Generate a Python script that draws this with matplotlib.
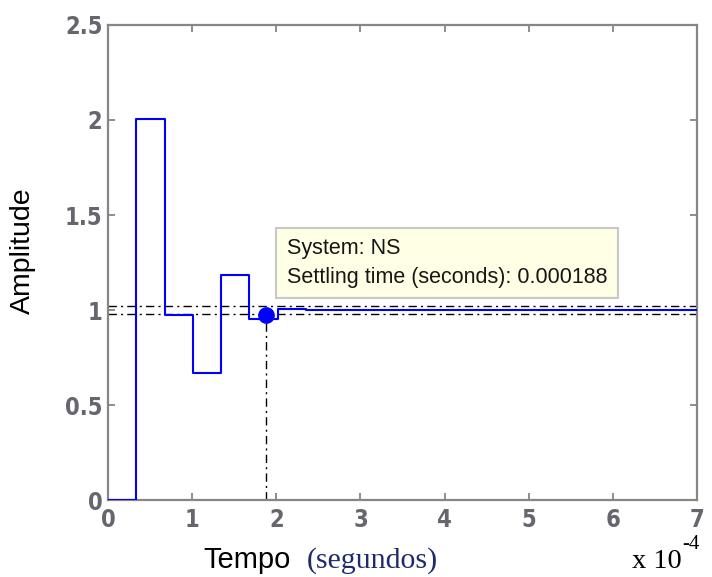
import matplotlib.pyplot as plt
import numpy as np

# step response samples (seconds, amplitude)
t_edges = [0.0, 0.336e-4, 0.672e-4, 1.008e-4, 1.344e-4, 1.68e-4, 2.016e-4, 2.35e-4, 7e-4]
amp = [0.0, 2.005, 0.975, 0.668, 1.184, 0.955, 1.003, 1.0, 1.0]
settle_t = 0.000188
settle_y = 0.974
band = [1.02, 0.98]
xticks = [0, 1, 2, 3, 4, 5, 6, 7]
yticks = [0, 0.5, 1, 1.5, 2, 2.5]
ytick_labels = ['0', '0.5', '1', '1.5', '2', '2.5']

dd = (6, 3, 1.5, 3)

fig = plt.figure(figsize=(7.12, 5.77), dpi=100)
ax = fig.add_axes([0.1517, 0.1334, 0.8273, 0.8233])

ax.step(t_edges, amp, where='post', color='#0000ff', lw=1.5, zorder=3)
for b in band:
    ax.axhline(b, color='black', lw=1.0, ls='-.', dashes=dd, zorder=2)
ax.plot([settle_t, settle_t], [0, settle_y], color='black', lw=1.0,
        ls='-.', dashes=dd, zorder=2)
ax.plot([settle_t], [settle_y], 'o', color='#0000ff', ms=11, zorder=4)

ax.set_xlim(0, 7e-4)
ax.set_ylim(0, 2.5)
ax.set_xticks([v * 1e-4 for v in xticks])
ax.set_xticklabels([str(v) for v in xticks])
ax.set_yticks(yticks)
ax.set_yticklabels(ytick_labels)
ax.tick_params(direction='in', length=5, width=1.2, colors='#7a7a7a',
               labelcolor='#66666e', labelsize=17, top=True, right=True)
ax.tick_params(axis='x', pad=6)
ax.tick_params(axis='y', pad=4)
for lab in ax.get_xticklabels() + ax.get_yticklabels():
    lab.set_fontweight('bold')
    lab.set_family('DejaVu Sans')
    lab.set_fontstretch('condensed')
for s in ax.spines.values():
    s.set_color('#868686')
    s.set_linewidth(1.6)

fig.text(0.032, 0.565, 'Amplitude', fontsize=20.5, family='Liberation Sans',
         rotation=90, ha='center', va='center')

# data tip box
ax.text(2.128e-4, 1.247, 'System: NS\nSettling time (seconds): 0.000188',
        fontsize=15.5, family='Liberation Sans', color='#161616', linespacing=1.45,
        va='center', ha='left', zorder=5,
        bbox=dict(boxstyle='square,pad=0.5', fc='#ffffe6', ec='#c8c8c8', lw=1.5))

fig.text(0.285, 0.029, 'Tempo', fontsize=21, family='Liberation Sans', va='center')
fig.text(0.431, 0.029, '(segundos)', fontsize=21.5, family='Liberation Serif',
         color='#1f2a6e', va='center')
fig.text(0.887, 0.026, 'x 10', fontsize=20.5, family='Liberation Serif', va='center')
fig.text(0.958, 0.057, '-4', fontsize=15, family='Liberation Serif', va='center')

fig.savefig('out.png', dpi=100)
